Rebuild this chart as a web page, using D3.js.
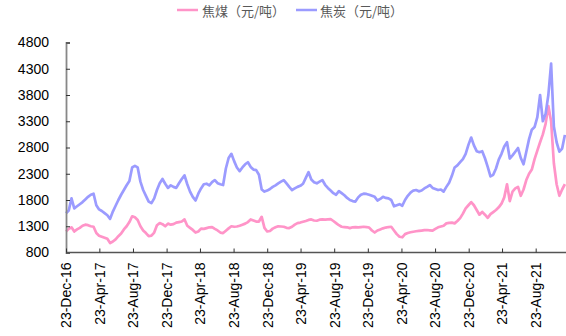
<!DOCTYPE html>
<html>
<head>
<meta charset="utf-8">
<script src="https://cdn.jsdelivr.net/npm/d3@7"></script>
<style>
  html, body { margin: 0; padding: 0; background: #fff; }
  svg { display: block; }
</style>
</head>
<body>
<div id="chart"></div>
<script>
// Series names shown in the legend
const seriesNames = ["焦煤（元/吨）", "焦炭（元/吨）"];
const seriesColors = ["#ff94c8", "#9b9bff"];

// Observation dates: first date and spacing in days between observations
const firstDate = "23-Dec-16";
const stepDays = 10;

// 焦煤 price, yuan per tonne
const cokingCoal = [
  1200, 1250, 1280, 1200, 1240, 1270, 1310, 1330, 1320, 1300,
  1290, 1170, 1120, 1100, 1080, 1060, 980, 1010, 1050, 1110,
  1160, 1240, 1300, 1380, 1490, 1470, 1420, 1300, 1220, 1170,
  1110, 1120, 1180, 1320, 1360, 1340, 1300, 1350, 1330, 1340,
  1370, 1380, 1390, 1430, 1310, 1270, 1230, 1180, 1200, 1255,
  1250, 1265, 1280, 1285, 1250, 1220, 1180, 1170, 1215, 1260,
  1300, 1290, 1295, 1310, 1330, 1350, 1380, 1430, 1410, 1390,
  1390, 1480, 1270, 1200, 1210, 1255, 1280, 1300, 1295, 1290,
  1270, 1265, 1290, 1330, 1360, 1370, 1385, 1400, 1420, 1430,
  1410, 1405, 1425, 1430, 1425, 1430, 1435, 1400, 1360, 1320,
  1290, 1285, 1280, 1265, 1280, 1285, 1280, 1285, 1290, 1285,
  1275, 1220, 1180, 1220, 1240, 1260, 1275, 1285, 1290, 1220,
  1150, 1100, 1090, 1150, 1170, 1185, 1196, 1205, 1212, 1218,
  1225, 1228, 1222, 1215, 1250, 1280, 1295, 1310, 1355, 1365,
  1368, 1355, 1400, 1455, 1540, 1640, 1700, 1760, 1700, 1610,
  1520, 1575, 1520, 1460, 1530, 1570, 1610, 1660, 1730, 1850,
  2100, 1780, 1960, 2020, 2050, 1880, 2000, 2180, 2300, 2380,
  2580, 2740, 2900, 3050, 3250, 3590, 3300, 2500, 2100, 1880,
  2000, 2100
];

// 焦炭 price, yuan per tonne
const coke = [
  1547, 1600, 1830, 1640, 1680, 1720, 1760, 1810, 1860, 1900,
  1920, 1700, 1620, 1590, 1550, 1510, 1440, 1580, 1690, 1800,
  1900, 1990, 2080, 2160, 2420, 2450, 2420, 2150, 1990, 1880,
  1770, 1740, 1830, 1990, 2120, 2200, 2110, 2030, 2080, 2050,
  2030, 2120, 2200, 2270, 2100, 1960, 1860, 1790, 1920, 2020,
  2100, 2110, 2080, 2140, 2180, 2120, 2100, 2085, 2400, 2600,
  2680, 2540, 2420, 2350, 2420, 2480, 2520, 2430, 2380, 2370,
  2280, 2000, 1960, 1980, 2010, 2050, 2080, 2117, 2150, 2180,
  2117, 2050, 1990, 2020, 2050, 2070, 2110, 2220, 2330, 2190,
  2140, 2117, 2150, 2180, 2090, 2030, 1980, 1930, 1900, 1970,
  1930, 1890, 1840, 1800, 1780, 1770, 1850, 1900, 1920, 1915,
  1900, 1880, 1860, 1790, 1820, 1860, 1840, 1830, 1800, 1680,
  1700, 1720, 1690, 1800, 1880, 1940, 1980, 1990, 1965, 1980,
  2020, 2050, 2085, 2030, 2010, 1990, 2000, 1960, 2050, 2130,
  2260, 2420, 2460, 2520, 2580, 2680, 2850, 2990, 2840, 2730,
  2710, 2730, 2595, 2430, 2250, 2280, 2400, 2570, 2680, 2820,
  2900, 2590, 2650, 2720, 2790, 2600, 2480, 2720, 2960, 3140,
  3190, 3380, 3800, 3300, 3440, 3800, 4400, 3200, 2900, 2720,
  2780, 3040
];

// Axis ticks
const xTickLabels = [
  "23-Dec-16", "23-Apr-17", "23-Aug-17", "23-Dec-17", "23-Apr-18",
  "23-Aug-18", "23-Dec-18", "23-Apr-19", "23-Aug-19", "23-Dec-19",
  "23-Apr-20", "23-Aug-20", "23-Dec-20", "23-Apr-21", "23-Aug-21"
];
const xDomainEnd = "23-Dec-21";
const yTicks = [800, 1300, 1800, 2300, 2800, 3300, 3800, 4300, 4800];

const W = 566, H = 336;
const plotLeft = 66, plotRight = 569.3, plotTop = 42.5, plotBottom = 252.5;

const parse = d3.timeParse("%d-%b-%y");
const start = parse(firstDate);
const dates = cokingCoal.map((_, i) => d3.timeDay.offset(start, i * stepDays));

const x = d3.scaleTime().domain([start, parse(xDomainEnd)]).range([plotLeft, plotRight]);
const y = d3.scaleLinear().domain([800, 4800]).range([plotBottom, plotTop]);

const svg = d3.select("#chart").append("svg")
  .attr("width", W).attr("height", H);

// Lines
const series = [cokingCoal, coke];
const line = d3.line()
  .x((d, i) => x(dates[i]))
  .y(d => y(d));

series.forEach((vals, k) => {
  svg.append("path")
    .datum(vals)
    .attr("fill", "none")
    .attr("stroke", seriesColors[k])
    .attr("stroke-width", 2.7)
    .attr("stroke-linejoin", "round")
    .attr("d", line);
});

// Y axis
const yAxis = svg.append("g")
  .attr("transform", `translate(${plotLeft},0)`)
  .call(d3.axisRight(y).tickValues(yTicks).tickSize(4).tickFormat(d3.format("d")));
yAxis.select(".domain").attr("stroke", "#888").attr("stroke-width", 1.8);
yAxis.selectAll(".tick line").attr("stroke", "#333");
yAxis.selectAll(".tick text")
  .attr("x", -17)
  .attr("text-anchor", "end")
  .attr("fill", "#000")
  .style("font-family", "'Liberation Sans', Arial, sans-serif")
  .style("font-size", "14px");

// X axis
const xAxis = svg.append("g")
  .attr("transform", `translate(0,${plotBottom})`)
  .call(d3.axisTop(x).tickValues(xTickLabels.map(parse)).tickSize(4)
    .tickFormat(d3.timeFormat("%d-%b-%y")));
xAxis.select(".domain").attr("stroke", "#555").attr("stroke-width", 1.3)
  .attr("d", `M${plotLeft},0H${W}`);
xAxis.selectAll(".tick line").attr("stroke", "#333");
xAxis.selectAll(".tick text")
  .attr("y", 0)
  .attr("dy", "0.35em")
  .attr("transform", "translate(0,10) rotate(-90)")
  .attr("text-anchor", "end")
  .attr("fill", "#000")
  .style("font-family", "'Liberation Sans', Arial, sans-serif")
  .style("font-size", "14px");

// Legend
const legend = svg.append("g");
const legendItems = [
  { x1: 177, x2: 198, tx: 202 },
  { x1: 296, x2: 317, tx: 320 }
];
legendItems.forEach((it, k) => {
  legend.append("line")
    .attr("x1", it.x1).attr("x2", it.x2)
    .attr("y1", 10).attr("y2", 10)
    .attr("stroke", seriesColors[k]).attr("stroke-width", 2.5);
  legend.append("text")
    .attr("x", it.tx).attr("y", 11)
    .attr("dy", "0.35em")
    .attr("fill", "#595959")
    .style("font-family", "'Noto Sans CJK SC', sans-serif")
    .style("font-size", "13px")
    .text(seriesNames[k]);
});
</script>
</body>
</html>
